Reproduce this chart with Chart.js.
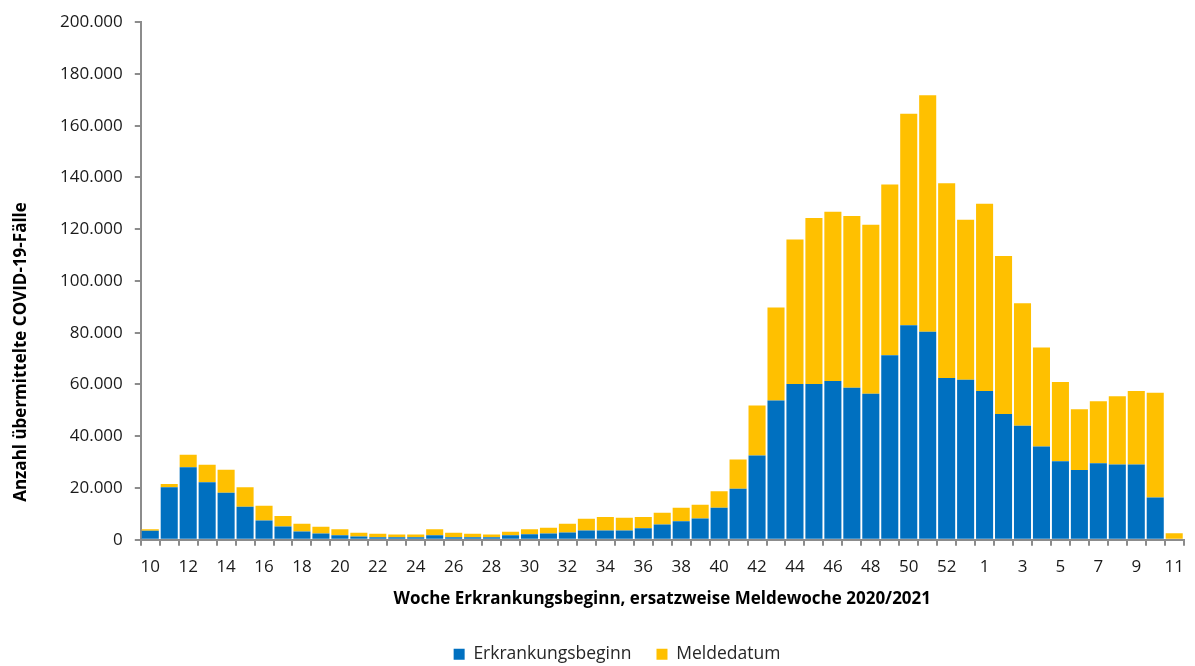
<!DOCTYPE html>
<html>
<head>
<meta charset="utf-8">
<script src="https://cdn.jsdelivr.net/npm/chart.js@4.4.1/dist/chart.umd.min.js"></script>
<style>
  body { margin: 0; background: #fff; }
  #wrap { width: 1195px; height: 666px; }
</style>
</head>
<body>
<div id="wrap"><canvas id="covidChart"></canvas></div>
<script>
// Meldewochen 2020 (10-53) und 2021 (1-11)
const weeks = [10, 11, 12, 13, 14, 15, 16, 17, 18, 19, 20, 21, 22, 23, 24, 25, 26, 27, 28, 29,
  30, 31, 32, 33, 34, 35, 36, 37, 38, 39, 40, 41, 42, 43, 44, 45, 46, 47, 48, 49,
  50, 51, 52, 53, 1, 2, 3, 4, 5, 6, 7, 8, 9, 10, 11];

// Fälle mit Erkrankungsbeginn
const erkrankungsbeginn = [3500, 20300, 28000, 22200, 18100, 12700, 7400, 5100, 3200, 2400,
  1700, 1200, 900, 900, 900, 1700, 900, 900, 900, 1700,
  2100, 2400, 2800, 3600, 3600, 3600, 4400, 5900, 7100, 8200,
  12300, 19700, 32500, 53800, 60200, 60200, 61300, 58700, 56400, 71300,
  82900, 80400, 62500, 61800, 57500, 48600, 44000, 36000, 30300, 26900,
  29500, 29100, 29100, 16300, 0];

// Fälle nur mit Meldedatum (Gesamthöhe minus Erkrankungsbeginn)
const meldedatum = [500, 1200, 4800, 6800, 8900, 7600, 5700, 4100, 3000, 2600,
  2300, 1500, 1400, 1100, 1100, 2300, 1800, 1400, 1100, 1400,
  1900, 2200, 3400, 4500, 5200, 4900, 4400, 4500, 5200, 5300,
  6400, 11300, 19400, 35900, 55800, 64100, 65400, 66400, 65300, 66000,
  81700, 91400, 75300, 61900, 72300, 61000, 47400, 38300, 30600, 23500,
  24000, 26300, 28400, 40500, 2500];

const yTicks = [0, 20000, 40000, 60000, 80000, 100000, 120000, 140000, 160000, 180000, 200000];

const font = 'Open Sans';
const axisGray = '#8c8c8c';

// y-Achsentitel sitzt im Original etwas unterhalb der Mitte, daher selbst gezeichnet
const yTitlePlugin = {
    id: 'yTitle',
    afterDraw(chart) {
        const c = chart.ctx;
        c.save();
        c.translate(21, 352);
        c.rotate(-Math.PI / 2);
        c.font = 'bold 17px "' + font + '"';
        c.fillStyle = '#000';
        c.textAlign = 'center';
        c.textBaseline = 'middle';
        c.fillText('Anzahl übermittelte COVID-19-Fälle', 0, 0);
        c.restore();
    }
};

const ctx = document.getElementById('covidChart').getContext('2d');
const covidChart = new Chart(ctx, {
    type: 'bar',
    data: {
        labels: weeks.map(String),
        datasets: [{
            label: 'Erkrankungsbeginn',
            data: erkrankungsbeginn,
            backgroundColor: '#0070C0',
            categoryPercentage: 1.0,
            barPercentage: 0.9
        }, {
            label: 'Meldedatum',
            data: meldedatum,
            backgroundColor: '#FFC000',
            categoryPercentage: 1.0,
            barPercentage: 0.9
        }]
    },
    plugins: [yTitlePlugin],
    options: {
        responsive: true,
        maintainAspectRatio: false,
        animation: false,
        layout: { padding: { top: 2, right: 9, left: 48, bottom: -7 } },
        plugins: {
            tooltip: { enabled: false },
            legend: {
                position: 'bottom',
                labels: {
                    boxWidth: 11,
                    boxHeight: 11,
                    padding: 25,
                    color: '#262626',
                    font: { family: font, size: 17.5 }
                }
            }
        },
        scales: {
            x: {
                stacked: true,
                border: { color: axisGray, width: 2 },
                grid: {
                    offset: true,
                    drawOnChartArea: false,
                    drawTicks: true,
                    tickLength: 6,
                    color: axisGray,
                    lineWidth: 2
                },
                ticks: {
                    autoSkip: false,
                    maxRotation: 0,
                    color: '#1a1a1a',
                    font: { family: font, size: 17 },
                    padding: 11,
                    callback: function (val, i) {
                        return i % 2 === 0 ? this.getLabelForValue(val) : '';
                    }
                },
                title: {
                    display: true,
                    text: 'Woche Erkrankungsbeginn, ersatzweise Meldewoche 2020/2021',
                    color: '#000',
                    font: { family: font, size: 17, weight: 'bold' },
                    padding: { top: 1, bottom: 11 }
                }
            },
            y: {
                stacked: true,
                min: 0,
                max: 200000,
                border: { color: axisGray, width: 2 },
                grid: {
                    drawOnChartArea: false,
                    drawTicks: true,
                    tickLength: 6,
                    color: axisGray,
                    lineWidth: 2
                },
                afterBuildTicks: function (axis) {
                    axis.ticks = yTicks.map(v => ({ value: v }));
                },
                ticks: {
                    color: '#1a1a1a',
                    font: { family: font, size: 17 },
                    padding: 12,
                    callback: v => v.toLocaleString('de-DE')
                }
            }
        }
    }
});
</script>
</body>
</html>
